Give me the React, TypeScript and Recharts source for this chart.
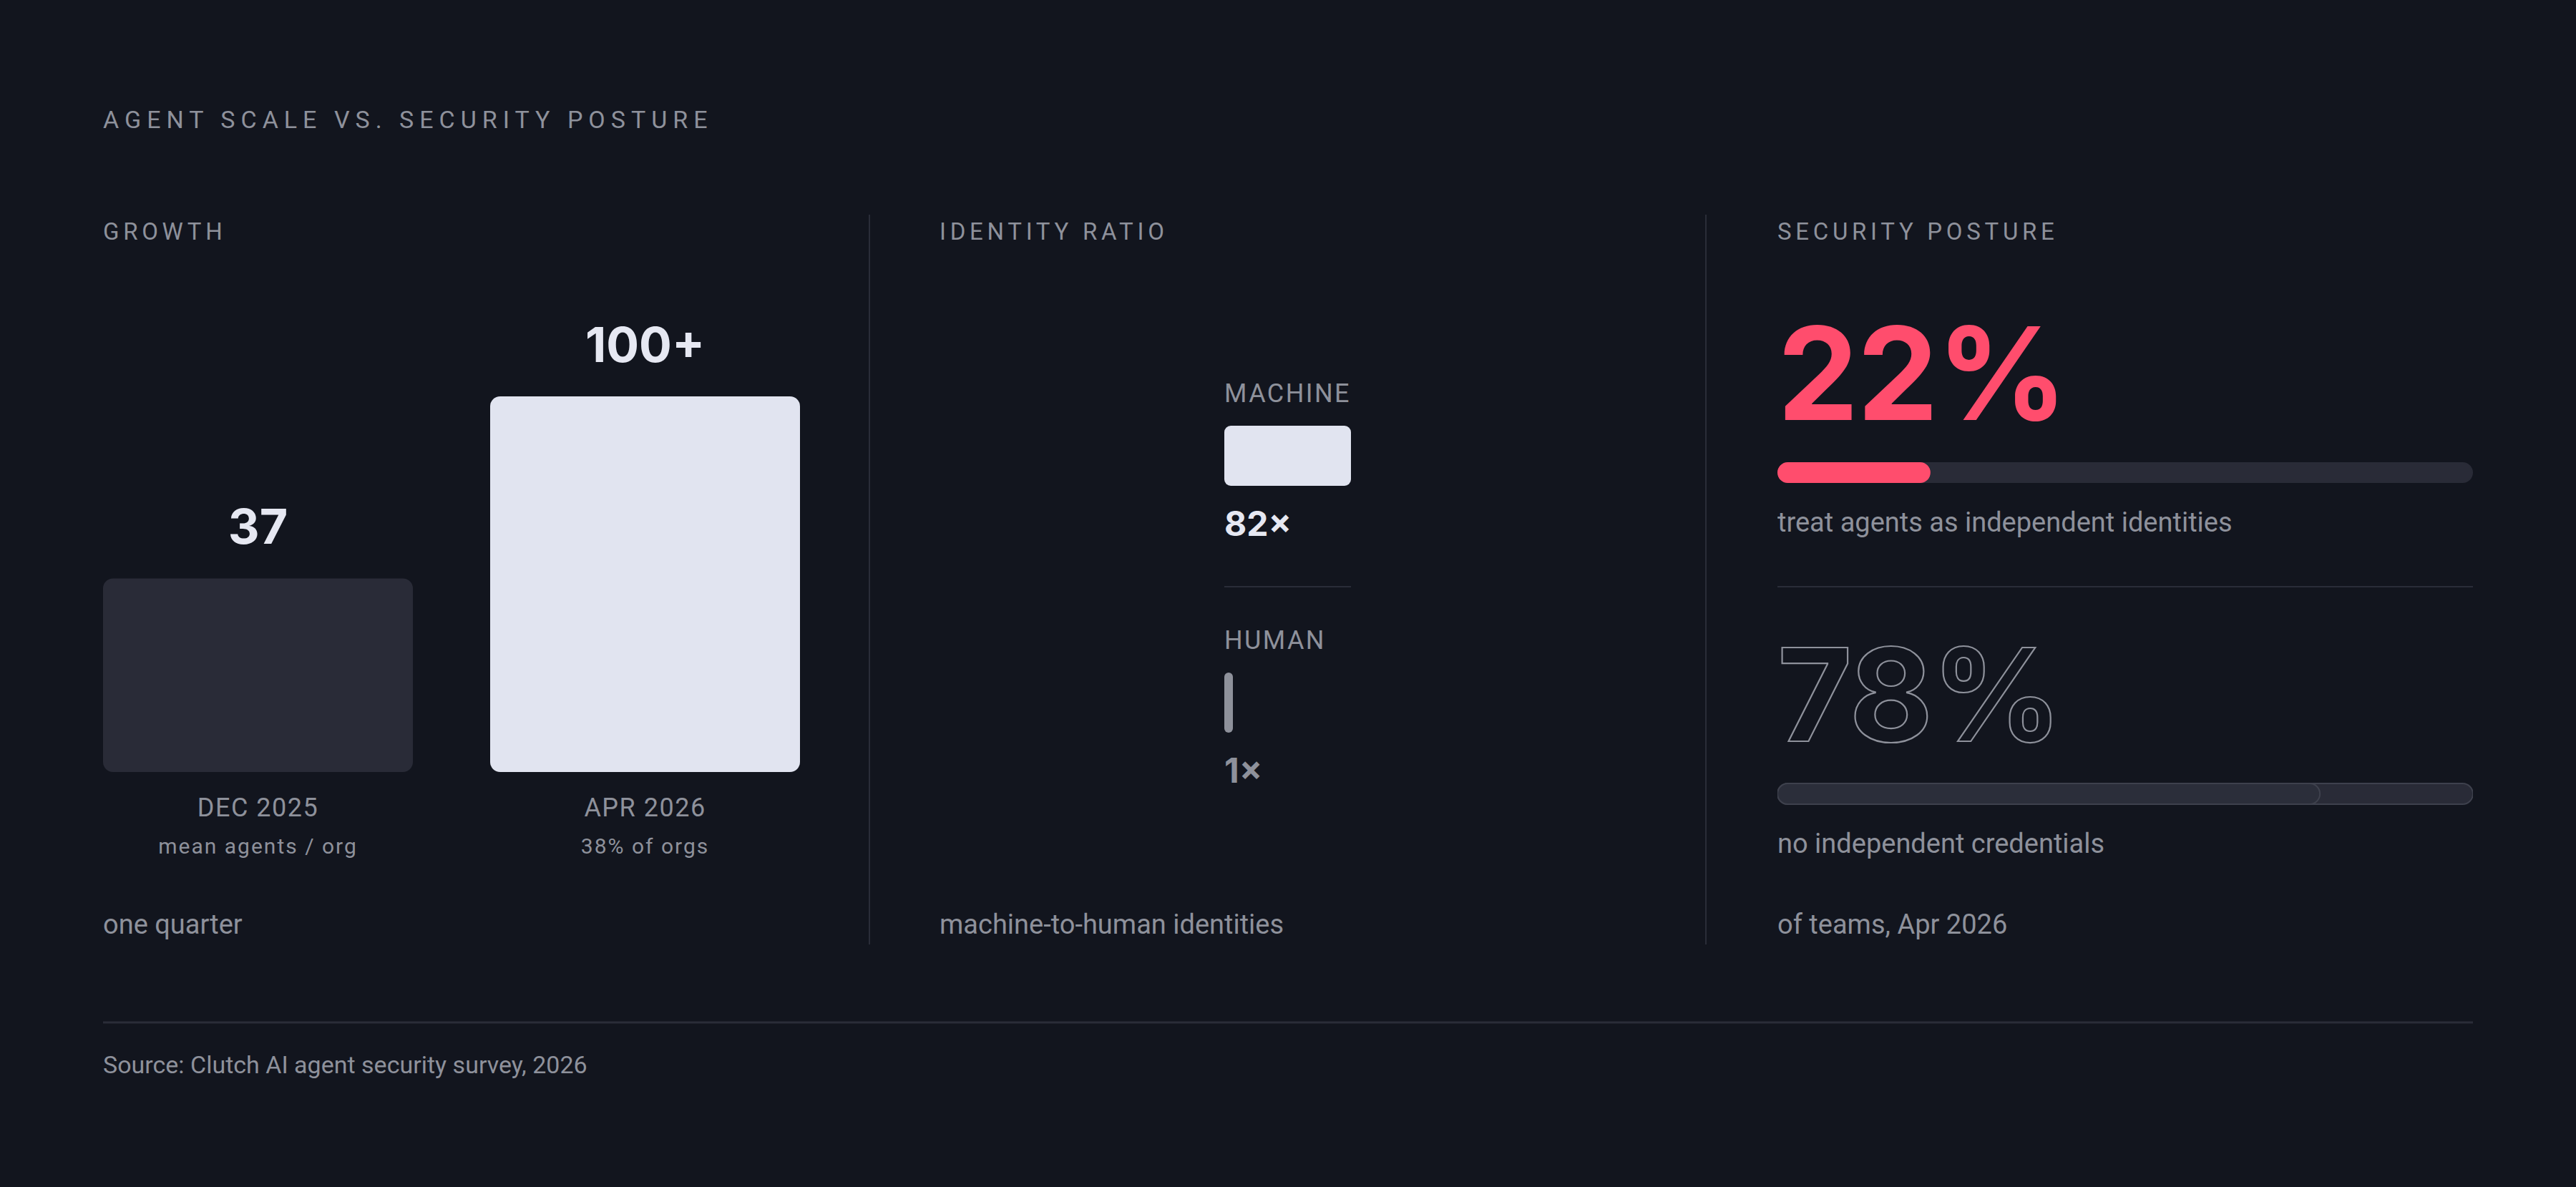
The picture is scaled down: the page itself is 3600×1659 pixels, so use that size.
import React from "react";
import { BarChart, Bar, XAxis, YAxis, Cell, LabelList } from "recharts";

// ---- data ----
const growthPeriods = ["DEC 2025", "APR 2026"];
const growthNotes = ["mean agents / org", "38% of orgs"];
const growthValues = [37, 100];
const growthLabels = ["37", "100+"];
const GROWTH_FLOOR = -30; // bars in the reference do not start from zero

const identityKinds = ["MACHINE", "HUMAN"];
const identityRatio = [82, 1];
const identityLabels = ["82×", "1×"];

const postureShares = [22, 78];
const postureLabels = ["22%", "78%"];
const postureNotes = ["treat agents as independent identities", "no independent credentials"];

const panelTitles = ["GROWTH", "IDENTITY RATIO", "SECURITY POSTURE"];
const panelFootnotes = ["one quarter", "machine-to-human identities", "of teams, Apr 2026"];

const growthData = growthPeriods.map((name, i) => ({ name, value: growthValues[i], label: growthLabels[i] }));
const identityData = identityKinds.map((kind, i) => ({ kind, value: identityRatio[i] }));
const postureData = postureLabels.map((label, i) => ({ label, value: postureShares[i] }));

// ---- look ----
const BG = "#12151e";
const GRAY = "#8e919b";
const BRIGHT = "#e6e8f2";
const LIGHT_BAR = "#e1e4f0";
const DARK_BAR = "#292b37";
const RULE = "#2a2d38";
const RED = "#ff4d6d";
const SANS = 'Roboto, "Noto Sans", sans-serif';
const DISPLAY = 'Inter, Roboto, sans-serif';

const panelX = [144, 1313, 2484];

function GrowthTick(p: any) {
  const name = p.payload?.value;
  const i = growthPeriods.indexOf(name);
  return (
    <g>
      <text x={p.x} y={p.y + 62} textAnchor="middle" fill={GRAY} fontFamily={SANS} fontSize={36} letterSpacing={1.5}>
        {name}
      </text>
      <text x={p.x} y={p.y + 114} textAnchor="middle" fill={GRAY} fontFamily={SANS} fontSize={30} letterSpacing={2}>
        {growthNotes[i]}
      </text>
    </g>
  );
}

const growthValueLabel = (p: any) => {
  const vb = p.viewBox ?? p;
  return (
    <text x={vb.x + vb.width / 2} y={vb.y - 48} textAnchor="middle" fill={BRIGHT} fontFamily={DISPLAY} fontWeight={700} fontSize={68}>
      {p.value}
    </text>
  );
};

const identityLabel = (p: any) => {
  const vb = p.viewBox ?? p;
  const i = identityKinds.indexOf(p.value);
  return (
    <g>
      <text x={vb.x} y={vb.y - 33} fill={GRAY} fontFamily={SANS} fontSize={36} letterSpacing={2.4}>
        {identityKinds[i]}
      </text>
      <text x={vb.x} y={vb.y + vb.height + 70} fill={i === 0 ? BRIGHT : GRAY} fontFamily={DISPLAY} fontWeight={700} fontSize={48}>
        {identityLabels[i]}
      </text>
    </g>
  );
};

const postureLabel = (p: any) => {
  const vb = p.viewBox ?? p;
  const i = postureLabels.indexOf(p.value);
  const solid = i === 0;
  return (
    <g>
      <text
        x={vb.x}
        y={vb.y - 59}
        fill={solid ? RED : "none"}
        stroke={solid ? "none" : GRAY}
        strokeWidth={2.2}
        fontFamily={DISPLAY}
        fontWeight={700}
        fontSize={180}
        letterSpacing={-2}
      >
        {postureLabels[i]}
      </text>
      <text x={vb.x} y={vb.y + vb.height + 68} fill={GRAY} fontFamily={SANS} fontSize={38}>
        {postureNotes[i]}
      </text>
    </g>
  );
};

export default function App() {
  return (
    <div style={{ position: "absolute", left: 0, top: 0, width: 3600, height: 1659, background: BG, overflow: "hidden" }}>
      <svg width={3600} height={1659} style={{ position: "absolute", left: 0, top: 0 }}>
        <text x={144} y={179} fill={GRAY} fontFamily={SANS} fontSize={34} letterSpacing={8}>
          AGENT SCALE VS. SECURITY POSTURE
        </text>
        {panelTitles.map((t, i) => (
          <text key={t} x={panelX[i]} y={335} fill={GRAY} fontFamily={SANS} fontSize={33} letterSpacing={5.7}>
            {t}
          </text>
        ))}
        {panelFootnotes.map((t, i) => (
          <text key={t} x={panelX[i]} y={1305} fill={GRAY} fontFamily={SANS} fontSize={38}>
            {t}
          </text>
        ))}
        <line x1={1215} x2={1215} y1={300} y2={1320} stroke={RULE} strokeWidth={2} />
        <line x1={2384} x2={2384} y1={300} y2={1320} stroke={RULE} strokeWidth={2} />
        <line x1={1711} x2={1888} y1={820} y2={820} stroke={RULE} strokeWidth={2} />
        <line x1={2484} x2={3456} y1={820} y2={820} stroke={RULE} strokeWidth={2} />
        <line x1={144} x2={3456} y1={1429} y2={1429} stroke={RULE} strokeWidth={3} />
        <text x={144} y={1500} fill={GRAY} fontFamily={SANS} fontSize={34}>
          Source: Clutch AI agent security survey, 2026
        </text>
      </svg>

      {/* growth: two bars */}
      <div style={{ position: "absolute", left: 90, top: 400 }}>
        <BarChart width={1082} height={820} data={growthData} margin={{ top: 154, right: 0, bottom: 0, left: 0 }}>
          <XAxis
            dataKey="name"
            height={141}
            axisLine={false}
            tickLine={false}
            tickSize={0}
            tickMargin={0}
            interval={0}
            tick={(p: any) => <GrowthTick {...p} />}
          />
          <YAxis hide type="number" domain={[GROWTH_FLOOR, 100]} allowDataOverflow />
          <Bar dataKey={(d: any) => [GROWTH_FLOOR, d.value]} barSize={433} radius={14} isAnimationActive={false}>
            {growthData.map((d, i) => (
              <Cell key={d.name} fill={i === 0 ? DARK_BAR : LIGHT_BAR} />
            ))}
            <LabelList dataKey="label" content={growthValueLabel} />
          </Bar>
        </BarChart>
      </div>

      {/* identity ratio: horizontal bars */}
      <div style={{ position: "absolute", left: 1711, top: 464 }}>
        <BarChart
          layout="vertical"
          width={177}
          height={690}
          data={identityData}
          margin={{ top: 0, right: 0, bottom: 0, left: 0 }}
        >
          <XAxis type="number" hide domain={[0, 82]} allowDataOverflow />
          <YAxis type="category" dataKey="kind" hide />
          <Bar dataKey="value" barSize={84} radius={9} minPointSize={12} isAnimationActive={false}>
            {identityData.map((d, i) => (
              <Cell key={d.kind} fill={i === 0 ? LIGHT_BAR : GRAY} />
            ))}
            <LabelList dataKey="kind" content={identityLabel} />
          </Bar>
        </BarChart>
      </div>

      {/* security posture: progress bars */}
      <div style={{ position: "absolute", left: 2484, top: 336 }}>
        <BarChart
          layout="vertical"
          width={972}
          height={998}
          data={postureData}
          margin={{ top: 100, right: 0, bottom: 0, left: 0 }}
        >
          <XAxis type="number" hide domain={[0, 100]} allowDataOverflow />
          <YAxis type="category" dataKey="label" hide />
          <Bar
            dataKey="value"
            barSize={29}
            radius={14.5}
            background={{ fill: DARK_BAR, radius: 14.5 }}
            isAnimationActive={false}
          >
            {postureData.map((d, i) => (
              <Cell
                key={d.label}
                fill={i === 0 ? RED : "#2b2e3a"}
                stroke={i === 0 ? "none" : "#3e414d"}
                strokeWidth={i === 0 ? 0 : 2}
              />
            ))}
            <LabelList dataKey="label" content={postureLabel} />
          </Bar>
        </BarChart>
      </div>
    </div>
  );
}
